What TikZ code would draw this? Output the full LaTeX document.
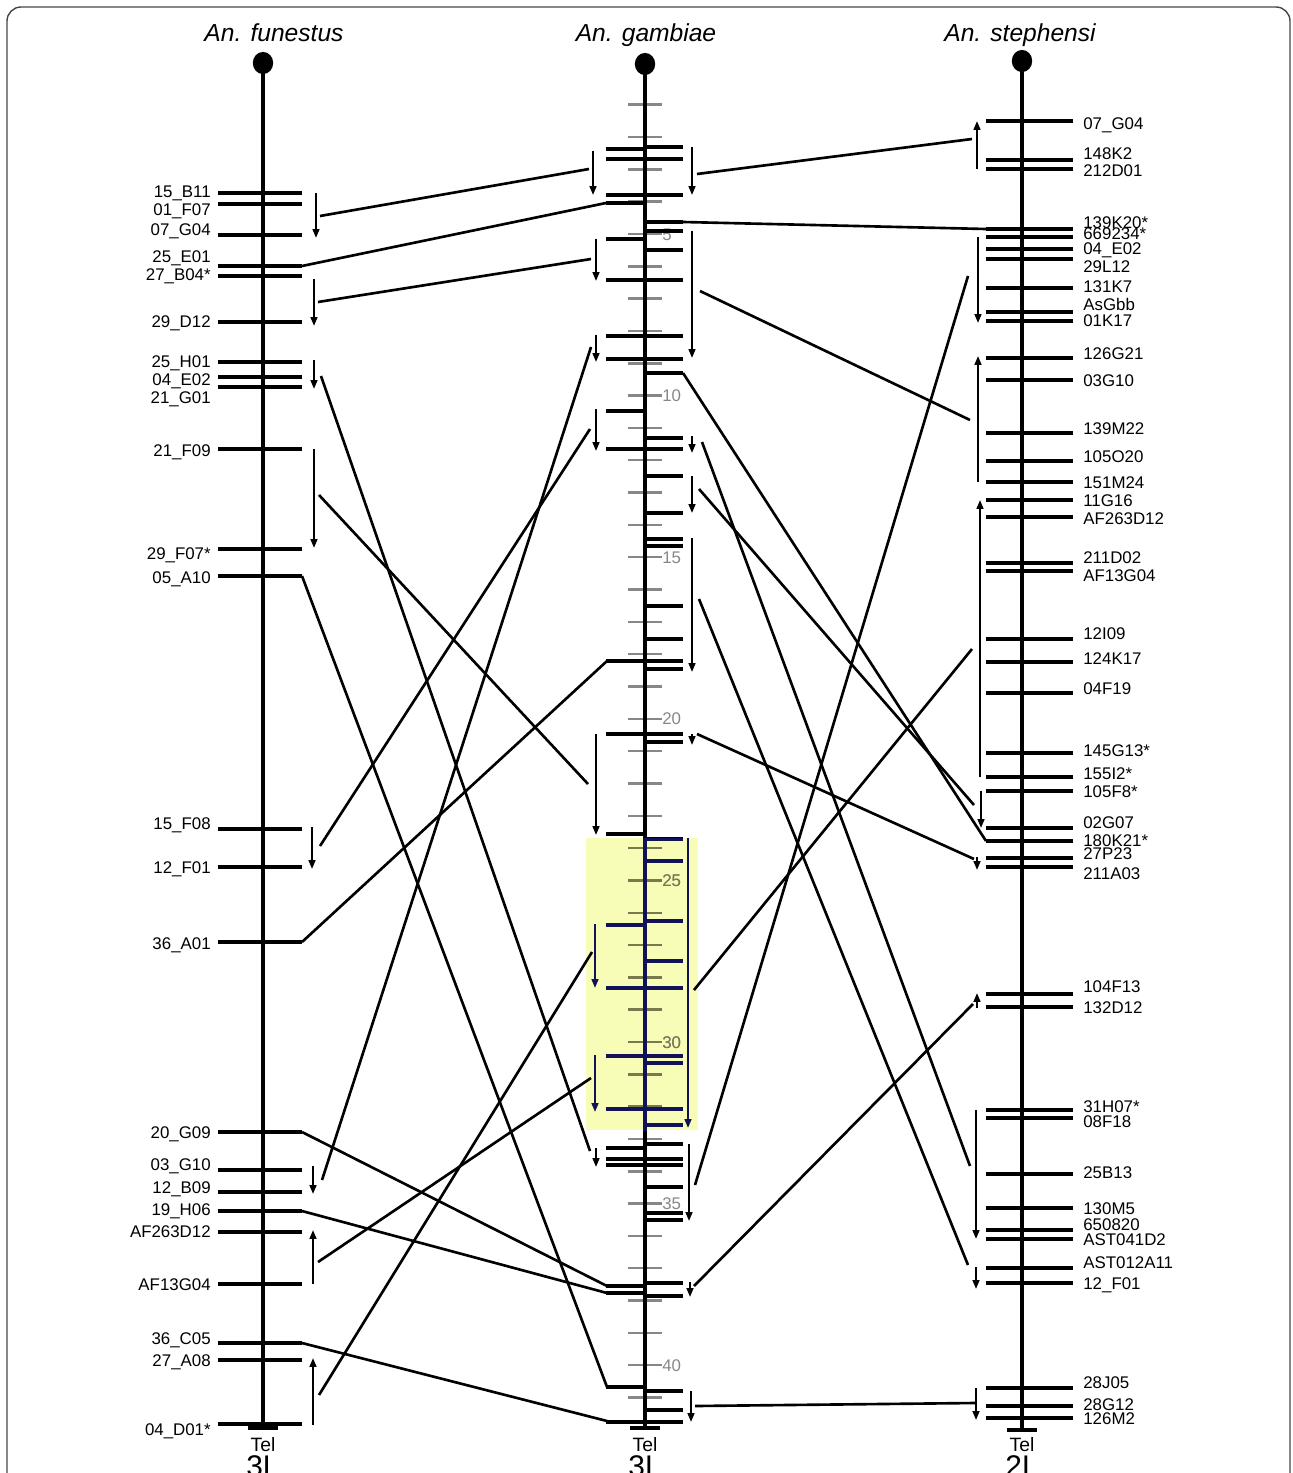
\documentclass[tikz,border=0pt]{standalone}
\usepackage{fontspec}
\setmainfont{Liberation Sans}
\usetikzlibrary{arrows.meta}

\definecolor{scalegray}{RGB}{135,135,135}
\definecolor{hilite}{RGB}{247,252,182}
\definecolor{hiliteblue}{RGB}{18,18,88}
\definecolor{hiliteolive}{RGB}{120,122,78}
\definecolor{framegray}{RGB}{70,70,70}

% An. gambiae marker ticks (y), left side / right side / both sides
\newcommand\gamLeft{149,203,239,411,834,925,1148,1286,1293,1387}
\newcommand\gamRight{147,222,231,250,373,438,476,513,539,546,606,639,669,742,839,861,921,961,1063,1125,1144,1187,1213,1220,1283,1296,1391,1410}
\newcommand\gamBoth{159,195,280,336,359,449,661,734,988,1056,1109,1159,1165,1422}

\newcommand\gamMarks{%
  \foreach \y in \gamLeft {\draw[mk] (606,\y) -- (645,\y);}
  \foreach \y in \gamRight {\draw[mk] (645,\y) -- (683,\y);}
  \foreach \y in \gamBoth {\draw[mk] (606,\y) -- (683,\y);}
}
% scale ticks of An. gambiae, one per unit
\newcommand\gamScale[2]{%
  \foreach \k in {#1,...,#2} {
    \pgfmathsetmacro\yy{234+(\k-5)*32.32}
    \draw[scl] (628,\yy) -- (662,\yy);
  }
}

\begin{document}
\begin{tikzpicture}[
    x=0.02cm, y=-0.02cm,
    >={Triangle[length=5pt,width=3.8pt]},
    chrom/.style={line width=2.2pt},
    mk/.style={line width=2.0pt},
    lnk/.style={line width=1.5pt},
    inv/.style={->, line width=1.1pt},
    scl/.style={line width=1.4pt, draw=scalegray},
    lbl/.style={font=\fontsize{9.6}{10}\selectfont, inner sep=0pt,
      text height=6.9pt, text depth=0pt},
    fl/.style={lbl, anchor=east},
    sl/.style={lbl, anchor=west},
    num/.style={lbl, anchor=west, text=scalegray},
    title/.style={font=\fontsize{14}{16}\selectfont\itshape, inner sep=0pt,
      text height=10pt, text depth=0pt},
    tel/.style={font=\fontsize{11}{12}\selectfont, inner sep=0pt,
      text height=7.9pt, text depth=0pt},
    arm/.style={font=\fontsize{17}{19}\selectfont, inner sep=0pt,
      text height=12.2pt, text depth=0pt}
  ]
  \useasboundingbox (0,0) rectangle (1292,1473);
  \draw[framegray, line width=0.8pt, rounded corners=8pt] (7,7) rectangle (1290,1530);

  % highlighted block on An. gambiae
  \fill[hilite] (586,838) rectangle (698,1130);

  % Titles
  \node[title] (tfun) at (274,33) {An. funestus};
  \node[title] (tgam) at (646,33) {An. gambiae};
  \node[title] (tste) at (1020,33) {An. stephensi};

  % Scale of An. gambiae
  \gamScale{1}{41}
  \foreach \k in {5,10,...,40} {
    \pgfmathsetmacro\yy{234+(\k-5)*32.32}
    \node[num] (s\k) at (662,\yy) {\k};
  }

  % Chromosomes
  \foreach \x/\yc/\yt/\n/\a in {263/63/1428/fun/3L, 645/64/1428/gam/3L, 1022/61/1430/ste/2L} {
    \draw[chrom] (\x,\yc) -- (\x,\yt);
    \fill (\x,\yc) ellipse [x radius=5.8pt, y radius=6.3pt];
    \draw[chrom] ([xshift=-8.5pt]\x,\yt) -- ([xshift=8.5pt]\x,\yt);
    \node[tel] (tel\n) at (\x,1445) {Tel};
    \node[arm] (arm\n) at (\x,1466) {\a};
  }

  % An. funestus markers
  \foreach \t/\ly/\ty [count=\i] in {15\_B11/191/193, 01\_F07/209/204, 07\_G04/229/235,
      25\_E01/256/266, 27\_B04*/274/276, 29\_D12/321/322, 25\_H01/361/362,
      04\_E02/379/377, 21\_G01/397/387, 21\_F09/450/449, 29\_F07*/553/549,
      05\_A10/577/576, 15\_F08/823/829, 12\_F01/867/867, 36\_A01/943/942,
      20\_G09/1132/1132, 03\_G10/1164/1170, 12\_B09/1187/1192, 19\_H06/1209/1211,
      AF263D12/1231/1232, AF13G04/1284/1284, 36\_C05/1338/1343, 27\_A08/1360/1360,
      04\_D01*/1429/1424} {
    \draw[mk] (218,\ty) -- (302,\ty);
    \node[fl] (f\i) at (211,\ly) {\t};
  }

  % An. gambiae markers
  \gamMarks

  % An. stephensi markers
  \foreach \t/\ly/\ty [count=\i] in {07\_G04/123/121, 148K2/153/160, 212D01/170/169,
      139K20*/222/229, 669234*/233/237, 04\_E02/248/249, 29L12/266/259,
      131K7/286/288, AsGbb/304/312, 01K17/320/321, 126G21/353/358, 03G10/380/380,
      139M22/428/433, 105O20/456/461, 151M24/482/482, 11G16/500/500,
      AF263D12/518/517, 211D02/557/563, AF13G04/575/571, 12I09/633/639,
      124K17/658/662, 04F19/688/693, 145G13*/750/753, 155I2*/773/777,
      105F8*/791/791, 02G07/822/828, 180K21*/840/841, 27P23/853/858,
      211A03/873/867, 104F13/986/994, 132D12/1007/1007, 31H07*/1106/1110,
      08F18/1121/1118, 25B13/1172/1174, 130M5/1208/1208, 650820/1224/1230,
      AST041D2/1239/1239, AST012A11/1262/1268, 12\_F01/1283/1283,
      28J05/1382/1388, 28G12/1404/1406, 126M2/1418/1418} {
    \draw[mk] (986,\ty) -- (1073,\ty);
    \node[sl] (m\i) at (1083,\ly) {\t};
  }

  % highlighted block redrawn in its own colours
  \begin{scope}[scl/.append style={draw=hiliteolive},
      mk/.append style={draw=hiliteblue}]
    \clip (586,838) rectangle (698,1130);
    \gamScale{24}{32}
    \foreach \k in {25,30} {
      \pgfmathsetmacro\yy{234+(\k-5)*32.32}
      \node[num, text=hiliteolive] at (662,\yy) {\k};
    }
    \draw[chrom, hiliteblue] (645,830) -- (645,1140);
    \gamMarks
  \end{scope}

  % Links An. funestus -- An. gambiae
  \foreach \xa/\ya/\xb/\yb in {320/216/589/169, 302/266/606/203, 318/302/591/259,
      321/376/590/1151, 319/495/588/784, 302/576/607/1387, 320/846/590/429,
      302/942/607/661, 302/1132/607/1286, 322/1180/591/347, 302/1211/607/1293,
      318/1262/591/1078, 302/1343/607/1421, 319/1395/592/952}
    \draw[lnk] (\xa,\ya) -- (\xb,\yb);

  % Links An. gambiae -- An. stephensi
  \foreach \xa/\ya/\xb/\yb in {697/174/972/139, 683/222/986/229, 695/1185/968/276,
      700/291/970/420, 694/990/972/649, 699/489/974/805, 683/373/986/841,
      697/734/974/859, 694/1286/973/1004, 702/442/970/1166, 699/599/968/1265,
      695/1406/975/1403}
    \draw[lnk] (\xa,\ya) -- (\xb,\yb);

  % Orientation arrows
  \foreach \x/\ya/\yb in {316/193/238, 314/279/326, 314/360/389, 314/449/548,
      312/827/869, 313/1166/1194, 313/1284/1230, 313/1425/1358,
      593/151/195, 596/239/281, 596/335/362, 596/409/451, 596/734/835, 596/1148/1167,
      692/147/195, 692/231/358, 692/436/453, 692/476/513, 692/538/672, 692/734/745,
      689/1144/1221, 690/1282/1297, 691/1391/1422,
      977/169/121, 978/237/323, 978/482/356, 980/777/500, 981/791/828, 977/857/870,
      977/1008/993, 976/1110/1239, 976/1267/1289, 976/1388/1420}
    \draw[inv] (\x,\ya) -- (\x,\yb);
  \foreach \x/\ya/\yb in {595/924/988, 595/1055/1112, 688/838/1128}
    \draw[inv, hiliteblue] (\x,\ya) -- (\x,\yb);
\end{tikzpicture}
\end{document}
